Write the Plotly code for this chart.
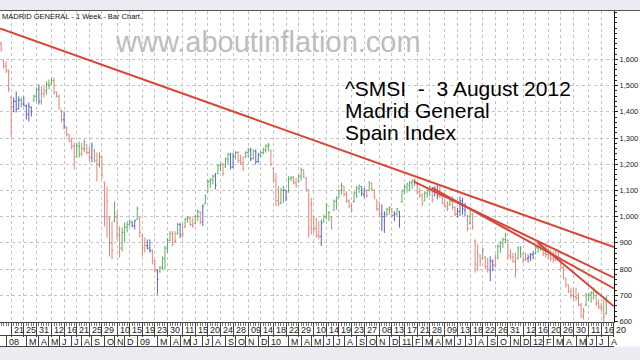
import pandas as pd
import plotly.graph_objects as go

# ---------------- data (weekly bars, Monday dates) ----------------
first_week = "2007-12-24"
n_weeks = 241

opens = [1660,1595,1575,1555,1455,1420,1440,1412,1445,1430,
         1422,1390,1418,1442,1460,1485,1440,1470,1480,1505,
         1508,1520,1475,1460,1405,1370,1340,1312,1290,1270,
         1230,1270,1240,1260,1275,1245,1225,1255,1215,1200,
         1225,1130,1000,995,900,985,1000,930,880,940,
         960,970,980,965,990,995,930,880,890,880,
         870,830,795,790,805,840,880,910,935,905,
         935,970,930,960,990,995,970,975,1000,1018,
         980,1050,1095,1135,1140,1155,1165,1195,1200,1190,
         1220,1238,1190,1230,1245,1215,1205,1228,1245,1255,
         1222,1250,1210,1235,1245,1255,1270,1250,1185,1140,
         1060,1052,1100,1100,1095,1145,1150,1130,1135,1155,
         1178,1148,1100,1050,990,955,930,925,980,1000,
         1040,1000,1025,1058,1075,1098,1115,1085,1060,1040,
         1058,1090,1108,1115,1085,1100,1100,1128,1100,1064,
         1030,1010,1000,1008,1028,1030,1005,1010,1020,1058,
         1095,1112,1120,1128,1135,1125,1095,1080,1060,1090,
         1098,1100,1080,1100,1078,1075,1050,1040,1045,1058,
         1035,1010,1020,1060,1025,1002,975,1010,910,815,
         850,840,845,812,795,830,815,842,885,900,
         912,910,850,845,830,840,870,860,835,840,
         845,855,860,880,888,885,860,855,850,840,
         835,845,840,805,765,738,715,700,695,690,
         662,620,662,700,700,710,712,668,655,650,
         630]

highs = [1668,1600,1592,1562,1459,1455,1478,1459,1455,1459,
         1428,1436,1421,1466,1493,1505,1497,1497,1516,1524,
         1531,1531,1478,1466,1409,1402,1344,1314,1302,1283,
         1283,1287,1283,1295,1276,1268,1283,1257,1245,1245,
         1230,1134,1115,1001,982,1058,1020,963,959,978,
         982,989,982,989,1039,1001,932,921,913,913,
         875,837,798,811,849,888,919,945,945,945,
         977,977,975,996,1002,1002,996,1008,1027,1021,
         1047,1085,1142,1148,1161,1167,1199,1206,1206,1225,
         1244,1244,1244,1250,1250,1237,1231,1250,1263,1263,
         1257,1257,1244,1250,1263,1276,1282,1257,1187,1167,
         1117,1110,1117,1104,1155,1155,1155,1148,1161,1187,
         1180,1150,1105,1072,1002,996,983,989,1008,1053,
         1021,1002,1066,1078,1104,1129,1117,1097,1066,1053,
         1097,1117,1123,1117,1110,1104,1136,1129,1104,1066,
         1059,1047,1021,1034,1040,1034,1021,1034,1021,1104,
         1123,1129,1136,1142,1145,1129,1110,1091,1097,1104,
         1117,1104,1117,1123,1117,1078,1066,1059,1066,1078,
         1040,1034,1078,1072,1053,1008,1034,1015,913,894,
         856,881,849,843,849,837,856,894,907,919,
         938,913,875,862,862,888,888,862,862,856,
         862,869,888,894,900,888,888,881,875,869,
         869,875,843,811,767,741,729,729,729,709,
         671,652,709,709,716,729,716,684,671,684,
         697]

lows = [1630,1565,1548,1475,1302,1398,1398,1409,1417,1421,
        1371,1363,1382,1440,1440,1428,1428,1455,1466,1486,
        1505,1466,1455,1409,1360,1333,1306,1283,1257,1180,
        1226,1226,1230,1245,1237,1211,1207,1207,1134,1188,
        1142,963,921,848,837,978,913,844,867,901,
        940,963,959,951,989,921,848,863,875,863,
        818,787,703,786,798,798,862,907,888,900,
        932,919,920,958,977,964,958,970,983,970,
        964,1047,1091,1110,1123,1104,1161,1174,1155,1187,
        1199,1180,1186,1218,1205,1199,1174,1225,1225,1212,
        1218,1199,1206,1225,1237,1244,1250,1193,1129,1040,
        1040,1047,1053,1059,1091,1136,1123,1110,1129,1136,
        1148,1095,920,932,938,919,913,888,977,989,
        983,951,1021,1027,1072,1085,1078,1053,1034,1015,
        1053,1072,1091,1078,1072,1072,1097,1097,1066,1021,
        1002,945,938,1002,1008,996,983,1002,958,1053,
        1085,1091,1097,1104,1117,1085,1072,1040,1059,1072,
        1078,1053,1078,1066,1072,1047,1034,1021,1040,1027,
        1002,996,1002,1008,1002,945,970,951,786,792,
        811,837,799,786,754,792,805,837,862,881,
        900,837,837,824,767,837,843,824,830,824,
        830,837,856,862,869,849,843,837,830,824,
        830,837,799,760,729,709,690,684,678,659,
        614,608,659,678,671,684,659,646,640,595,
        627]

closes = [1640,1575,1558,1488,1420,1440,1410,1445,1430,1425,
          1390,1420,1400,1460,1485,1440,1470,1480,1505,1500,
          1520,1475,1460,1415,1370,1345,1315,1290,1270,1220,
          1270,1240,1260,1285,1245,1225,1270,1215,1200,1230,
          1160,1000,1060,900,870,1000,930,880,940,960,
          970,980,965,985,1030,940,880,890,880,870,
          830,800,760,805,840,880,910,935,895,910,
          970,930,935,990,995,970,965,1000,1020,980,
          1040,1080,1135,1140,1155,1120,1195,1200,1165,1220,
          1238,1190,1230,1245,1215,1205,1185,1245,1255,1220,
          1250,1210,1235,1245,1255,1270,1275,1200,1140,1060,
          1050,1100,1105,1070,1145,1150,1130,1120,1155,1180,
          1155,1105,960,950,955,930,925,975,1000,1045,
          1015,960,1060,1070,1100,1120,1085,1060,1040,1025,
          1090,1110,1118,1090,1100,1080,1130,1105,1075,1030,
          1010,1000,1010,1028,1035,1005,1010,1030,1000,1098,
          1115,1125,1130,1138,1140,1095,1080,1050,1090,1100,
          1112,1065,1105,1080,1080,1055,1040,1030,1060,1035,
          1010,1020,1060,1030,1040,955,1025,960,820,860,
          830,875,810,800,830,815,815,888,900,912,
          930,850,845,830,790,880,880,835,840,845,
          855,860,882,888,895,860,855,850,840,835,
          845,845,805,770,740,715,700,695,690,665,
          620,640,700,705,710,720,670,655,650,620,
          690]

# bar colour code per week: r = red, g = green, b = blue
bar_colors = list(
    "rrrrrbbbgb" "bbbggbrrgg" "grrrrbrrrr" "ggrgrrbrrg" "rrrrrgrrgg"
    "ggbbgrrrbb" "rrbgggggrr" "gbrggrrggr" "bggggbggrg" "gbbgrrrggb"
    "gbbggggrrr" "rggbggrrgg" "rrrrrrrbgg" "grggggrrrr" "gggbbrgrrr"
    "rbbggrbgbg" "gggggrrrgg" "grbbrrrrgr" "rbbbbrgrrr" "rgrrbbrggg"
    "grrrrggrrb" "bbgggrrrrr" "rrrrrrrrrr" "rrggggrrrr" "g"
)

# trend lines (start date, start value, end date, end value)
trend_x0 = ["2007-12-21", "2011-02-12", "2011-04-02", "2012-01-21"]
trend_y0 = [1718, 1134, 1111, 902]
trend_x1 = ["2012-08-20", "2012-08-20", "2012-08-20", "2012-08-20"]
trend_y1 = [884, 767, 726, 658]

# axis labels
day_tick_dates = ["2008-01-21", "2008-02-25", "2008-03-31", "2008-05-12", "2008-06-16",
                  "2008-07-21", "2008-08-25", "2008-09-29", "2008-11-10", "2008-12-15",
                  "2009-01-19", "2009-02-23", "2009-03-30", "2009-05-11", "2009-06-15",
                  "2009-07-20", "2009-08-24", "2009-09-28", "2009-11-09", "2009-12-14",
                  "2010-01-18", "2010-02-22", "2010-03-29", "2010-05-10", "2010-06-14",
                  "2010-07-19", "2010-08-23", "2010-09-27", "2010-11-08", "2010-12-13",
                  "2011-01-17", "2011-02-21", "2011-03-28", "2011-05-09", "2011-06-13",
                  "2011-07-18", "2011-08-22", "2011-09-26", "2011-10-31", "2011-12-12",
                  "2012-01-16", "2012-02-20", "2012-03-26", "2012-04-30", "2012-06-11",
                  "2012-07-16", "2012-08-20"]
day_tick_text = [d[-2:] for d in day_tick_dates]

month_tick_dates = ["2008-01-07", "2008-03-03", "2008-04-07", "2008-05-05", "2008-06-02",
                    "2008-07-07", "2008-08-04", "2008-09-01", "2008-10-06", "2008-11-03",
                    "2008-12-01",
                    "2009-01-05", "2009-03-02", "2009-04-06", "2009-05-04", "2009-06-01",
                    "2009-07-06", "2009-08-03", "2009-09-07", "2009-10-05", "2009-11-02",
                    "2009-12-07",
                    "2010-01-04", "2010-03-01", "2010-04-05", "2010-05-03", "2010-06-07",
                    "2010-07-05", "2010-08-02", "2010-09-06", "2010-10-04", "2010-11-01",
                    "2010-12-06",
                    "2011-01-03", "2011-02-07", "2011-03-07", "2011-04-04", "2011-05-02",
                    "2011-06-06", "2011-07-04", "2011-08-01", "2011-09-05", "2011-10-03",
                    "2011-11-07", "2011-12-05",
                    "2012-01-02", "2012-02-06", "2012-03-05", "2012-04-02", "2012-05-07",
                    "2012-06-04", "2012-07-02", "2012-08-06"]
month_tick_text = ["08", "M", "A", "M", "J", "J", "A", "S", "O", "N", "D",
                   "09", "M", "A", "M", "J", "J", "A", "S", "O", "N", "D",
                   "10", "M", "A", "M", "J", "J", "A", "S", "O", "N", "D",
                   "11", "F", "M", "A", "M", "J", "J", "A", "S", "O", "N", "D",
                   "12", "F", "M", "A", "M", "J", "J", "A"]

price_ticks = [600, 700, 800, 900, 1000, 1100, 1200, 1300, 1400, 1500, 1600]

# ---------------- styling ----------------
RED = "#e0867b"
GREEN = "#5faf63"
BLUE = "#5a63c2"
TREND = "#d8463a"
FONT = "Liberation Sans"
AXC = "#444"

dates = pd.date_range(first_week, periods=n_weeks, freq="W-MON")
x_range = ["2007-12-21", "2012-08-20 12:00"]

PLOT_W = 614.0
H_PAPER = 335.0  # pixels 11..346
def py(pix):
    return (346 - pix) / H_PAPER

def px(pix):
    return pix / PLOT_W

fig = go.Figure()

for code, col in [("r", RED), ("g", GREEN), ("b", BLUE)]:
    idx = [i for i, c in enumerate(bar_colors[:n_weeks]) if c == code]
    fig.add_trace(go.Ohlc(
        x=[dates[i] for i in idx],
        open=[opens[i] for i in idx],
        high=[highs[i] for i in idx],
        low=[lows[i] for i in idx],
        close=[closes[i] for i in idx],
        increasing=dict(line=dict(color=col, width=1)),
        decreasing=dict(line=dict(color=col, width=1)),
        tickwidth=0.45,
        hoverinfo="skip",
        showlegend=False,
    ))

for x0, y0, x1, y1 in zip(trend_x0, trend_y0, trend_x1, trend_y1):
    fig.add_trace(go.Scatter(
        x=[x0, x1], y=[y0, y1], mode="lines",
        line=dict(color=TREND, width=2),
        hoverinfo="skip", showlegend=False,
    ))

# invisible helper for the month-row subplot
fig.add_trace(go.Scatter(x=[dates[0]], y=[0.5], xaxis="x2", yaxis="y2",
                         mode="markers", marker=dict(opacity=0),
                         hoverinfo="skip", showlegend=False))

fig.update_layout(
    width=640, height=360,
    margin=dict(l=0, r=640 - PLOT_W, t=11, b=14, autoexpand=False),
    paper_bgcolor="white", plot_bgcolor="white",
    font=dict(family=FONT, size=9, color="#222"),
    showlegend=False,
    xaxis=dict(
        type="date", range=x_range, domain=[0, 1], anchor="y",
        showline=True, linecolor=AXC, linewidth=1,
        tickmode="array", tickvals=day_tick_dates,
        ticks="outside", ticklen=14, tickcolor=AXC,
        minor=dict(tick0="2007-12-24", dtick=7 * 86400000, ticks="outside",
                   ticklen=3, tickcolor="#777", showgrid=False),
        showticklabels=False, automargin=False,
        showgrid=True, gridcolor="#c4c4c4", griddash="dot", gridwidth=1,
        zeroline=False, rangeslider=dict(visible=False), fixedrange=True,
    ),
    xaxis2=dict(
        type="date", range=x_range, domain=[0, 1], anchor="y2", matches="x",
        tickmode="array", tickvals=month_tick_dates,
        ticks="inside", ticklen=10, tickcolor=AXC,
        showticklabels=False, automargin=False,
        showline=True, linecolor=AXC, linewidth=1, mirror=True,
        showgrid=False, zeroline=False, rangeslider=dict(visible=False),
    ),
    yaxis=dict(
        domain=[py(322), 1], anchor="x", side="right",
        range=[598, 1785], automargin=False,
        tickmode="array", tickvals=price_ticks, tickformat=",",
        ticks="outside", ticklen=3, tickcolor="#222",
        tickfont=dict(family=FONT, size=7.5, color="#222"),
        minor=dict(dtick=20, ticks="outside", ticklen=2, tickcolor="#222",
                   showgrid=False),
        showline=True, linecolor="#111", linewidth=1,
        showgrid=True, gridcolor="#c4c4c4", griddash="dot", gridwidth=1,
        zeroline=False, fixedrange=True,
    ),
    yaxis2=dict(
        domain=[0, py(336)], anchor="x2", range=[0, 1], visible=False,
        fixedrange=True, automargin=False,
    ),
)

shapes = [
    dict(type="rect", xref="paper", yref="paper", x0=0, x1=1.05,
         y0=py(10), y1=py(-2), fillcolor="#ebebf1", line=dict(width=0), layer="below"),
    dict(type="line", xref="paper", yref="paper", x0=0, x1=1.05,
         y0=py(10.5), y1=py(10.5), line=dict(color="#555", width=1)),
    dict(type="rect", xref="paper", yref="paper", x0=0, x1=1.05,
         y0=py(362), y1=py(346.5), fillcolor="#ebebf1", line=dict(width=0), layer="below"),
]

annotations = [
    dict(text="MADRID GENERAL - 1 Week - Bar Chart.", x=px(0), y=py(17),
         xref="paper", yref="paper",
         xanchor="left", yanchor="middle", showarrow=False,
         font=dict(family=FONT, size=7.5, color="#111")),
    dict(text="www.aboutinflation.com", x=px(268), y=py(42),
         xref="paper", yref="paper",
         xanchor="center", yanchor="middle", showarrow=False,
         font=dict(family=FONT, size=29, color="#bdbdbd")),
    dict(text="^SMSI  -  3 August 2012", x=px(343), y=py(88),
         xref="paper", yref="paper",
         xanchor="left", yanchor="middle", showarrow=False,
         font=dict(family=FONT, size=21, color="#000")),
    dict(text="Madrid General", x=px(343), y=py(110),
         xref="paper", yref="paper",
         xanchor="left", yanchor="middle", showarrow=False,
         font=dict(family=FONT, size=21, color="#000")),
    dict(text="Spain Index", x=px(343), y=py(132),
         xref="paper", yref="paper",
         xanchor="left", yanchor="middle", showarrow=False,
         font=dict(family=FONT, size=21, color="#000")),
]
for d, t in zip(day_tick_dates, day_tick_text):
    annotations.append(dict(text=t, x=d, xref="x", y=py(329.5), yref="paper",
                            xanchor="left", yanchor="middle", xshift=0.5,
                            showarrow=False,
                            font=dict(family=FONT, size=9, color="#222")))
for d, t in zip(month_tick_dates, month_tick_text):
    annotations.append(dict(text=t, x=d, xref="x", y=py(341.5), yref="paper",
                            xanchor="left", yanchor="middle", xshift=0.5,
                            showarrow=False,
                            font=dict(family=FONT, size=9, color="#222")))

fig.update_layout(shapes=shapes, annotations=annotations)

fig.write_html("out.html")
